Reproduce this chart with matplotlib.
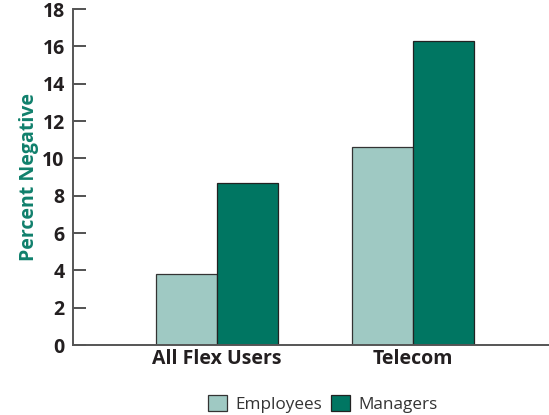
import matplotlib.pyplot as plt
import numpy as np

categories = ['All Flex Users', 'Telecom']
employees = [3.8, 10.6]
managers = [8.7, 16.3]
y_ticks = [0, 2, 4, 6, 8, 10, 12, 14, 16, 18]

light = '#9fc9c3'
dark = '#007662'
text_dark = '#231f20'

plt.rcParams['font.family'] = ['Open Sans', 'DejaVu Sans']

fig = plt.figure(figsize=(5.49, 4.15), dpi=100)
ax = fig.add_axes([73 / 549, 1 - 345 / 415, 1 - 73 / 549, (345 - 9) / 415])

x = np.arange(len(categories))
w = 0.31
ax.bar(x - w / 2, employees, w, color=light, edgecolor='#333333', linewidth=0.9,
       label='Employees')
ax.bar(x + w / 2, managers, w, color=dark, edgecolor='#222222', linewidth=0.9,
       label='Managers')

ax.set_xlim(-0.735, 1.694)
ax.set_ylim(0, 18)
ax.set_yticks(y_ticks)
ax.set_yticklabels([str(t) for t in y_ticks], fontsize=14, fontweight='bold',
                   color=text_dark)
ax.set_xticks(x)
ax.set_xticklabels(categories, fontsize=14, fontweight='bold', color=text_dark)
ax.tick_params(axis='y', direction='in', length=9, width=1.3, color='#444444', pad=6)
ax.tick_params(axis='x', length=0, pad=3)

for s in ['top', 'right']:
    ax.spines[s].set_visible(False)
for s in ['left', 'bottom']:
    ax.spines[s].set_color('#555555')
    ax.spines[s].set_linewidth(1.4)

ax.set_ylabel('Percent Negative', fontsize=14, fontweight='bold', color='#10806c',
              labelpad=2.5)

fig.legend(loc='center', bbox_to_anchor=(0.588, 0.027), ncol=2, frameon=False,
           fontsize=12.3, handlelength=1.1, handleheight=1.1, handletextpad=0.5,
           columnspacing=0.5, labelcolor='#333333')

fig.savefig('out.png', dpi=100)
